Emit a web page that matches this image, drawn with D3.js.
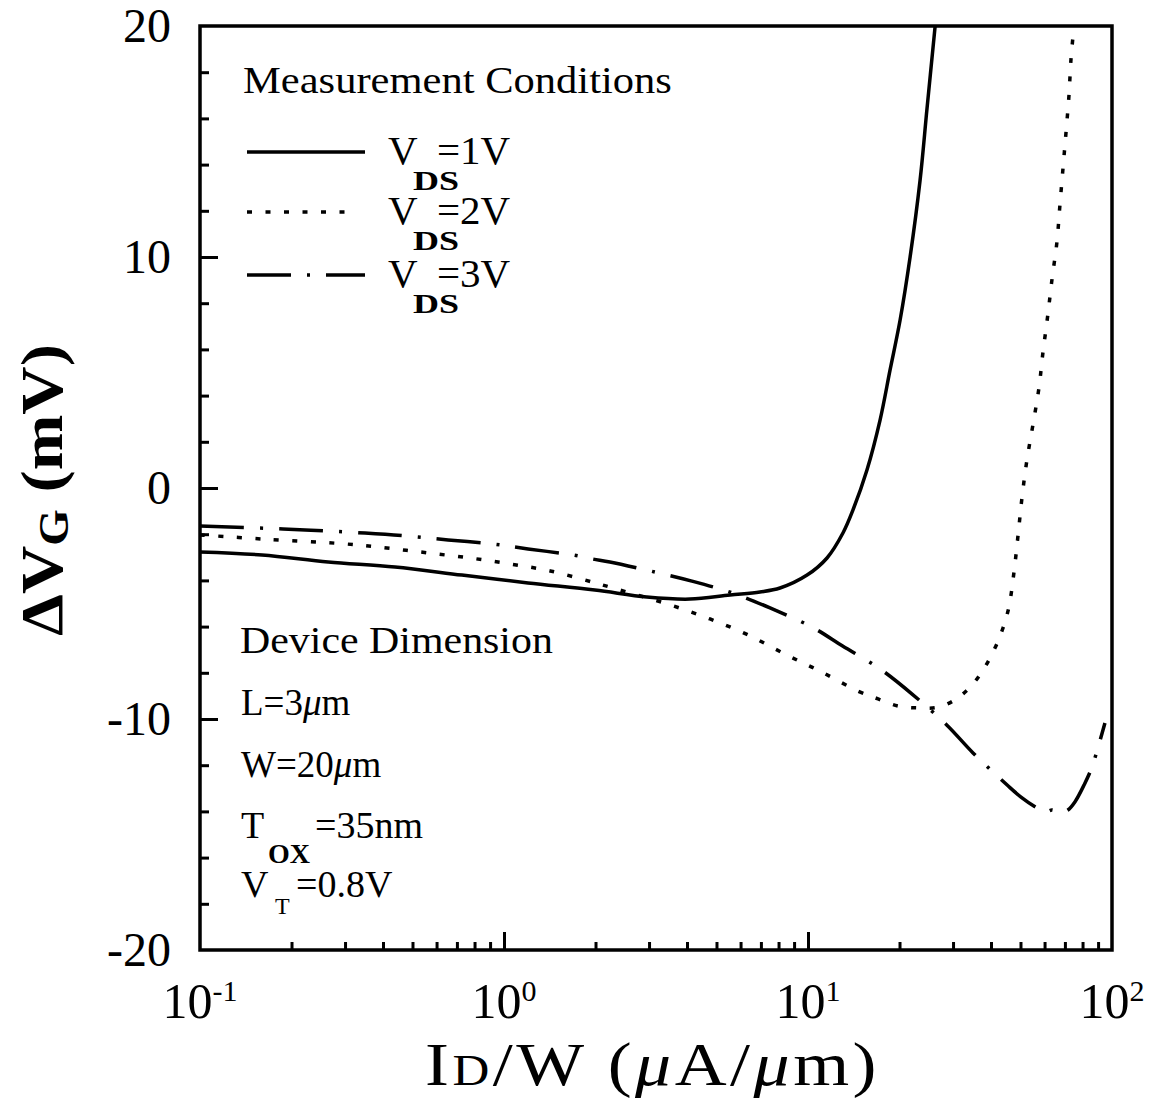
<!DOCTYPE html>
<html>
<head>
<meta charset="utf-8">
<script src="https://cdn.jsdelivr.net/npm/d3@7"></script>
<style>
  html, body { margin: 0; padding: 0; background: #fff; }
  svg { display: block; font-family: "Liberation Serif", "Times New Roman", serif; }
</style>
</head>
<body>
<svg id="chart" width="1156" height="1110"></svg>
<script>
// Gate-voltage shift vs. normalized drain current, three drain biases.
// x: I_D/W in µA/µm (log scale), y: ΔV_G in mV.

const vds1X = [0.1, 0.160, 0.264, 0.438, 0.727, 1.20, 1.99, 2.95, 4.09, 5.54, 6.95, 8.09, 9.93, 11.55, 13.03, 14.06, 15.63, 17.26, 18.62, 20.09, 21.67, 23.36, 24.62, 26.18];
const vds1Y = [-2.77, -2.90, -3.20, -3.42, -3.77, -4.11, -4.42, -4.72, -4.81, -4.63, -4.50, -4.33, -3.77, -3.03, -1.95, -0.95, 0.78, 2.94, 5.11, 7.27, 10.00, 13.3, 16.4, 19.96];

const vds2X = [0.1, 0.161, 0.300, 0.412, 0.562, 0.773, 1.05, 1.42, 1.95, 2.23, 3.52, 4.76, 6.35, 8.40, 11.1, 14.6, 17.0, 19.8, 23.0, 27.0, 31.1, 34.9, 38.2, 41.2, 43.8, 45.8, 47.6, 49.1, 50.6, 52.5, 55.0, 57.5, 59.3, 61.5, 63.5, 65.9, 67.4, 69.0, 70.6, 72.2, 73.3, 75.0];
const vds2Y = [-2.03, -2.21, -2.42, -2.60, -2.81, -3.03, -3.29, -3.59, -4.07, -4.29, -5.06, -5.67, -6.36, -7.19, -7.97, -8.79, -9.13, -9.44, -9.52, -9.48, -9.09, -8.48, -7.75, -6.93, -6.06, -5.15, -3.64, -2.03, -0.39, 1.21, 2.77, 4.33, 5.89, 7.49, 9.05, 10.65, 12.25, 13.85, 15.41, 17.01, 18.57, 20.0];

const vds3X = [0.1, 0.1875, 0.349, 0.483, 0.655, 0.914, 1.20, 1.69, 1.95, 2.23, 3.14, 4.15, 5.66, 7.50, 10.3, 13.0, 17.3, 22.0, 28.6, 34.9, 45.2, 50.2, 56.6, 60.2, 63.5, 67.4, 71.6, 75.5, 80.9, 85.9, 94.8];
const vds3Y = [-1.65, -1.77, -1.95, -2.08, -2.25, -2.42, -2.64, -2.90, -3.07, -3.20, -3.64, -4.03, -4.55, -5.19, -6.02, -6.84, -7.84, -8.92, -10.26, -11.47, -12.86, -13.38, -13.85, -14.03, -13.94, -14.07, -13.94, -13.59, -12.86, -12.08, -10.17];

const seriesLabels = ["1V", "2V", "3V"];
const yTickValues = [-20, -10, 0, 10, 20];
const xTickExponents = ["-1", "0", "1", "2"];
const deviceLines = ["L=3", "W=20"];

const svg = d3.select("#chart");
const margin = { left: 200, top: 26, right: 44, bottom: 160 };
const W = 1156 - margin.left - margin.right;   // 912
const H = 1110 - margin.top - margin.bottom;   // 924

const x = d3.scaleLog().domain([0.1, 100]).range([0, W]);
const y = d3.scaleLinear().domain([-20, 20]).range([H, 0]);

// Stretch a text group horizontally so that it spans `width` px from `left`.
function hfit(group, left, width) {
  const bb = group.node().getBBox();
  const s = width / bb.width;
  group.attr("transform", `translate(${left - bb.x * s},0) scale(${s},1)`);
}
// Same, but keep it centred on `cx`.
function hfitCenter(group, cx, width) {
  const bb = group.node().getBBox();
  const s = width / bb.width;
  group.attr("transform", `translate(${cx - (bb.x + bb.width / 2) * s},0) scale(${s},1)`);
}

const g = svg.append("g").attr("transform", `translate(${margin.left},${margin.top})`);

svg.append("defs").append("clipPath").attr("id", "plotClip")
  .append("rect").attr("x", 0).attr("y", 0).attr("width", W).attr("height", H);

// Y axis: minor ticks every 2 mV, longer majors every 10 mV, pointing inward
g.append("g")
  .call(d3.axisRight(y).tickValues(d3.range(-18, 19, 2)).tickSize(9).tickFormat(""));
g.append("g")
  .call(d3.axisRight(y).tickValues([-10, 0, 10]).tickSize(18).tickFormat(""));

// X axis: log minor ticks pointing up, majors at decades
const minorX = [];
[0.1, 1, 10].forEach(dec => { for (let k = 2; k <= 9; k++) minorX.push(dec * k); });
g.append("g").attr("transform", `translate(0,${H})`)
  .call(d3.axisTop(x).tickValues(minorX).tickSize(8).tickFormat(""));
g.append("g").attr("transform", `translate(0,${H})`)
  .call(d3.axisTop(x).tickValues([1, 10]).tickSize(18).tickFormat(""));

g.selectAll(".domain").remove();
g.selectAll(".tick line").attr("stroke", "#000").attr("stroke-width", 3);

// Frame
g.append("rect").attr("x", 0).attr("y", 0).attr("width", W).attr("height", H)
  .attr("fill", "none").attr("stroke", "#000").attr("stroke-width", 3.5);

// Y tick labels
svg.append("g").selectAll("text").data(yTickValues).join("text")
  .attr("x", 171)
  .attr("y", d => margin.top + y(d) + 16)
  .attr("text-anchor", "end")
  .attr("font-size", 48)
  .text(d => String(d));

// X tick labels: 10 with superscript exponent
const xl = svg.append("g").selectAll("text").data(xTickExponents).join("text")
  .attr("x", d => margin.left + x(Math.pow(10, +d)))
  .attr("y", 1018)
  .attr("text-anchor", "middle")
  .attr("font-size", 50);
xl.append("tspan").text("10");
xl.append("tspan").attr("font-size", 30).attr("dy", -17).text(d => d);

// Curves
const line = d3.line().x(d => x(d[0])).y(d => y(d[1])).curve(d3.curveCatmullRom.alpha(0.5));
const curves = g.append("g").attr("clip-path", "url(#plotClip)");
const styles = [
  { dash: null },
  { dash: "5 13.5" },
  { dash: "44 16 3 16" }
];
const series = [
  d3.zip(vds1X, vds1Y),
  d3.zip(vds2X, vds2Y),
  d3.zip(vds3X, vds3Y)
];
series.forEach((pts, i) => {
  curves.append("path")
    .attr("d", line(pts))
    .attr("fill", "none")
    .attr("stroke", "#000")
    .attr("stroke-width", 3.5)
    .attr("stroke-dasharray", styles[i].dash);
});

// Legend: measurement conditions
const mc = svg.append("g");
mc.append("text").attr("x", 0).attr("y", 93).attr("font-size", 38).text("Measurement Conditions");
hfit(mc, 243, 429);

const legY = [152, 212, 275];
const legLen = [118, 110, 118];
seriesLabels.forEach((lab, i) => {
  const ly = legY[i];
  svg.append("line")
    .attr("x1", 247).attr("x2", 247 + legLen[i])
    .attr("y1", ly).attr("y2", ly)
    .attr("stroke", "#000").attr("stroke-width", 3.5)
    .attr("stroke-dasharray", styles[i].dash);
  const t = svg.append("text").attr("font-size", 41);
  t.append("tspan").attr("x", 388).attr("y", ly + 12).text("V");
  t.append("tspan").attr("x", 413).attr("y", ly + 38).attr("font-size", 27)
    .attr("font-weight", "bold").attr("textLength", 46).attr("lengthAdjust", "spacingAndGlyphs").text("DS");
  t.append("tspan").attr("x", 437).attr("y", ly + 12).text("=" + lab);
});

// Device dimension block
const dd = svg.append("g");
dd.append("text").attr("x", 0).attr("y", 653).attr("font-size", 38).text("Device Dimension");
hfit(dd, 240, 313);

const devY = [715, 777];
deviceLines.forEach((s, i) => {
  const t = svg.append("text").attr("x", 241).attr("y", devY[i]).attr("font-size", 37);
  t.append("tspan").text(s);
  t.append("tspan").attr("font-style", "italic").text("μ");
  t.append("tspan").text("m");
});

const tox = svg.append("text").attr("font-size", 38);
tox.append("tspan").attr("x", 241).attr("y", 838).text("T");
tox.append("tspan").attr("x", 268).attr("y", 863).attr("font-size", 28)
  .attr("font-weight", "bold").text("OX");
tox.append("tspan").attr("x", 315).attr("y", 838).text("=35nm");

const vt = svg.append("text").attr("font-size", 38);
vt.append("tspan").attr("x", 241).attr("y", 897).text("V");
vt.append("tspan").attr("x", 275).attr("y", 914).attr("font-size", 24).text("T");
vt.append("tspan").attr("x", 296).attr("y", 897).text("=0.8V");

// Axis titles
const xg = svg.append("g");
const xt = xg.append("text").attr("x", 0).attr("y", 1085).attr("font-size", 62)
  .attr("letter-spacing", 3);
xt.append("tspan").text("I");
xt.append("tspan").attr("font-size", 44).text("D");
xt.append("tspan").text("/W (");
xt.append("tspan").attr("font-style", "italic").text("μ");
xt.append("tspan").text("A/");
xt.append("tspan").attr("font-style", "italic").text("μ");
xt.append("tspan").text("m)");
hfit(xg, 425, 455);

const yOuter = svg.append("g").attr("transform", "translate(62,490) rotate(-90)");
const yInner = yOuter.append("g");
const yt = yInner.append("text").attr("x", 0).attr("y", 0)
  .attr("font-size", 60).attr("font-weight", "bold");
yt.append("tspan").text("ΔV");
yt.append("tspan").attr("font-size", 42).attr("dy", 6).text("G");
yt.append("tspan").attr("dy", -6).text(" (mV)");
hfitCenter(yInner, 0, 292);
</script>
</body>
</html>
